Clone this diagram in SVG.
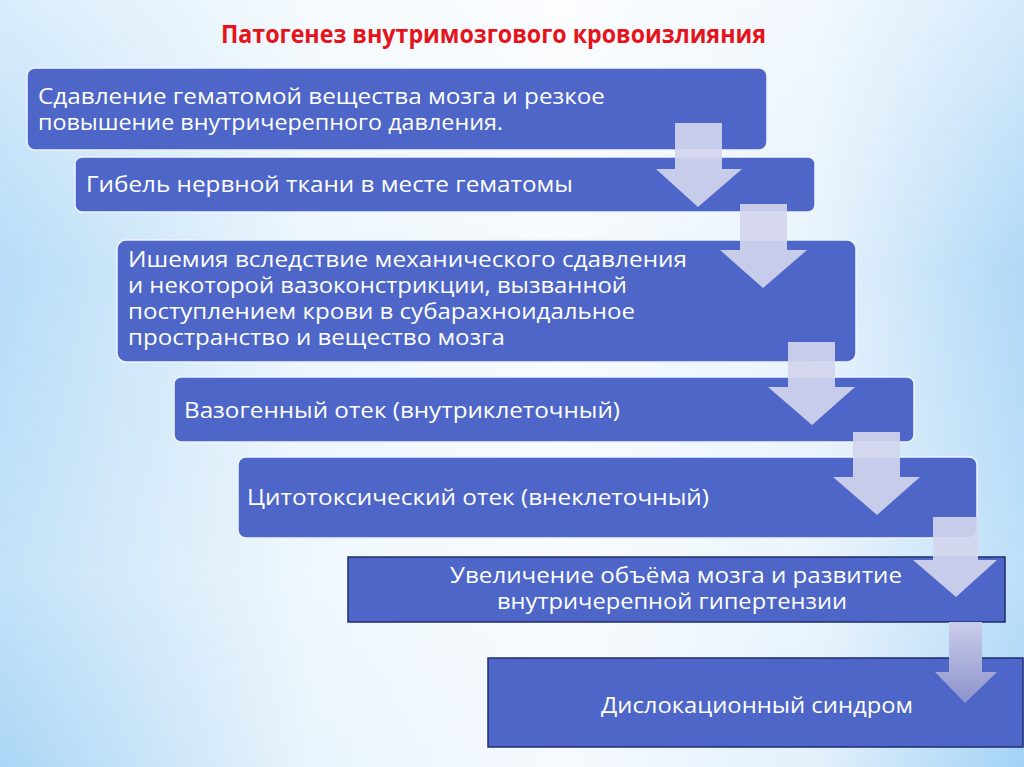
<svg xmlns="http://www.w3.org/2000/svg" width="1024" height="767" viewBox="0 0 1024 767">
<defs>
<linearGradient id="bgH" x1="0" y1="0" x2="1" y2="0">
<stop offset="0" stop-color="#aad6f6"/>
<stop offset="0.3" stop-color="#e9f4fc"/>
<stop offset="0.55" stop-color="#f6fafe"/>
<stop offset="0.8" stop-color="#e2f0fb"/>
<stop offset="1" stop-color="#a2d2f6"/>
</linearGradient>
<linearGradient id="bgV" x1="0" y1="0" x2="0" y2="1">
<stop offset="0" stop-color="#ffffff" stop-opacity="0.55"/>
<stop offset="0.35" stop-color="#ffffff" stop-opacity="0.15"/>
<stop offset="0.75" stop-color="#ffffff" stop-opacity="0.3"/>
<stop offset="1" stop-color="#ffffff" stop-opacity="0"/>
</linearGradient>
<linearGradient id="arr6" x1="0" y1="0" x2="0" y2="1">
<stop offset="0" stop-color="#cacdea"/>
<stop offset="1" stop-color="#8c92cc"/>
</linearGradient>
</defs>
<style>
.box{fill:#4e66c8;stroke:#eef3fb;stroke-width:1.5}
.sq{fill:#4e66c8;stroke:#1f2c6e;stroke-width:1.5}
.t{font-family:"Open Sans","DejaVu Sans",sans-serif;font-size:21px;fill:#ffffff}
.arr{fill:#d2d5ee;fill-opacity:0.92}
.title{font-family:"Open Sans","Liberation Sans",sans-serif;font-size:25px;font-weight:bold;fill:#e5131b}
</style>
<rect width="1024" height="767" fill="url(#bgH)"/>
<rect width="1024" height="767" fill="url(#bgV)"/>

<g id="title">
<text class="title" x="221" y="43" textLength="545" lengthAdjust="spacingAndGlyphs">Патогенез внутримозгового кровоизлияния</text>
</g>

<g id="n1">
<rect class="box" x="27" y="68" width="740" height="82" rx="8"/>
<text class="t" x="38" y="104" textLength="567" lengthAdjust="spacingAndGlyphs">Сдавление гематомой вещества мозга и резкое</text>
<text class="t" x="38" y="130" textLength="465" lengthAdjust="spacingAndGlyphs">повышение внутричерепного давления.</text>
</g>
<g id="n2">
<rect class="box" x="75" y="157" width="740" height="55" rx="7"/>
<text class="t" x="86" y="192" textLength="487" lengthAdjust="spacingAndGlyphs">Гибель нервной ткани в месте гематомы</text>
</g>
<g id="n3">
<rect class="box" x="117" y="240" width="739" height="122" rx="9"/>
<text class="t" x="128" y="267" textLength="559" lengthAdjust="spacingAndGlyphs">Ишемия вследствие механического сдавления</text>
<text class="t" x="128" y="293" textLength="499" lengthAdjust="spacingAndGlyphs">и некоторой вазоконстрикции, вызванной</text>
<text class="t" x="128" y="319" textLength="507" lengthAdjust="spacingAndGlyphs">поступлением крови в субарахноидальное</text>
<text class="t" x="128" y="345" textLength="377" lengthAdjust="spacingAndGlyphs">пространство и вещество мозга</text>
</g>
<g id="n4">
<rect class="box" x="174" y="377" width="740" height="65" rx="7"/>
<text class="t" x="184" y="418" textLength="436" lengthAdjust="spacingAndGlyphs">Вазогенный отек (внутриклеточный)</text>
</g>
<g id="n5">
<rect class="box" x="238" y="457" width="739" height="81" rx="8"/>
<text class="t" x="247" y="505" textLength="462" lengthAdjust="spacingAndGlyphs">Цитотоксический отек (внеклеточный)</text>
</g>
<g id="n6">
<rect class="sq" x="348" y="557" width="657" height="65"/>
<text class="t" x="676" y="583" text-anchor="middle" textLength="452" lengthAdjust="spacingAndGlyphs">Увеличение объёма мозга и развитие</text>
<text class="t" x="672" y="609" text-anchor="middle" textLength="350" lengthAdjust="spacingAndGlyphs">внутричерепной гипертензии</text>
</g>
<g id="n7">
<rect class="sq" x="488" y="658" width="535" height="89"/>
<text class="t" x="757" y="713" text-anchor="middle" textLength="312" lengthAdjust="spacingAndGlyphs">Дислокационный синдром</text>
</g>

<g id="connectors">
<polygon class="arr" points="675,123 722,123 722,169 742,169 698,207 656,169 675,169"/>
<polygon class="arr" points="740,204 787,204 787,250 807,250 763,288 720,250 740,250"/>
<polygon class="arr" points="788,342 835,342 835,387 855,387 812,425 768,387 788,387"/>
<polygon class="arr" points="853,432 900,432 900,477 920,477 877,515 833,477 853,477"/>
<polygon class="arr" points="933,517 978,517 978,560 997,560 956,597 913,560 933,560"/>
<polygon fill="url(#arr6)" points="949,622 982,622 982,672 997,672 965,703 935,672 949,672"/>
</g>
</svg>
